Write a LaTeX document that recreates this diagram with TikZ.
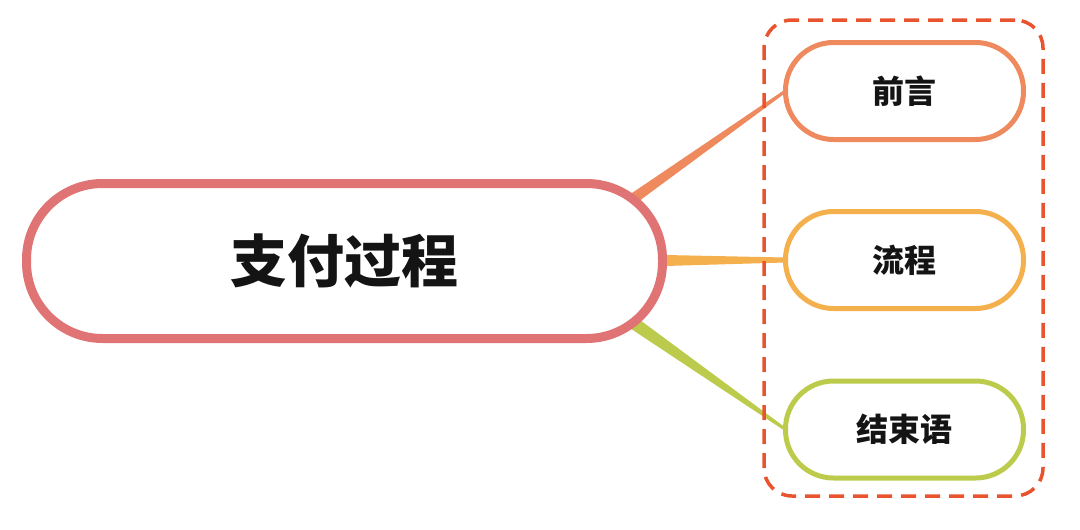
\documentclass[tikz,border=0pt]{standalone}
\usepackage{fontspec}
\newfontfamily\cjk{Noto Sans CJK SC}
\usetikzlibrary{calc,backgrounds}
\definecolor{mainc}{HTML}{E07474}
\definecolor{c1}{HTML}{EE8A5E}
\definecolor{c2}{HTML}{F3B04C}
\definecolor{c3}{HTML}{BCCB4C}
\definecolor{grpc}{HTML}{E9542F}
\definecolor{txt}{HTML}{141414}
\tikzset{
  mainbox/.style={draw=mainc, line width=9pt, fill=white, rounded corners=76pt,
    minimum width=636pt, minimum height=155pt, inner sep=0pt, outer sep=0pt,
    font=\cjk\bfseries\fontsize{57}{60}\selectfont, text=txt},
  childbox/.style={draw=#1, line width=5pt, fill=white, rounded corners=48pt,
    minimum width=238pt, minimum height=97pt, inner sep=0pt, outer sep=0pt,
    font=\cjk\bfseries\fontsize{32}{34}\selectfont, text=txt},
  groupbox/.style={draw=grpc, line width=3.5pt, dash pattern=on 15pt off 9pt,
    rounded corners=28pt, minimum width=279pt, minimum height=476pt,
    inner sep=0pt, outer sep=0pt}
}
\begin{document}
\begin{tikzpicture}[x=1pt,y=-1pt]
\useasboundingbox (0,0) rectangle (1080,530);
\node[mainbox] (main) at (344.5,261) {支付过程};
\node[childbox=c1] (n1) at (904.5,91) {前言};
\node[childbox=c2] (n2) at (904.5,260) {流程};
\node[childbox=c3] (n3) at (904.5,429.5) {结束语};
\coordinate (hub) at (545,261);
\begin{scope}[on background layer]
\fill[c1] ($(hub)!7.6pt!90:(n1.west)$) -- ($(n1.west)!1.5pt!-90:(hub)$) -- ($(n1.west)!1.5pt!90:(hub)$) -- ($(hub)!7.6pt!-90:(n1.west)$) -- cycle;
\fill[c2] ($(hub)!8.5pt!90:(n2.west)$) -- ($(n2.west)!2.5pt!-90:(hub)$) -- ($(n2.west)!2.5pt!90:(hub)$) -- ($(hub)!8.5pt!-90:(n2.west)$) -- cycle;
\fill[c3] ($(hub)!9pt!90:(n3.west)$) -- ($(n3.west)!1.5pt!-90:(hub)$) -- ($(n3.west)!1.5pt!90:(hub)$) -- ($(hub)!9pt!-90:(n3.west)$) -- cycle;
\end{scope}
\node[groupbox] (grp) at (903.5,258) {};
\end{tikzpicture}
\end{document}
